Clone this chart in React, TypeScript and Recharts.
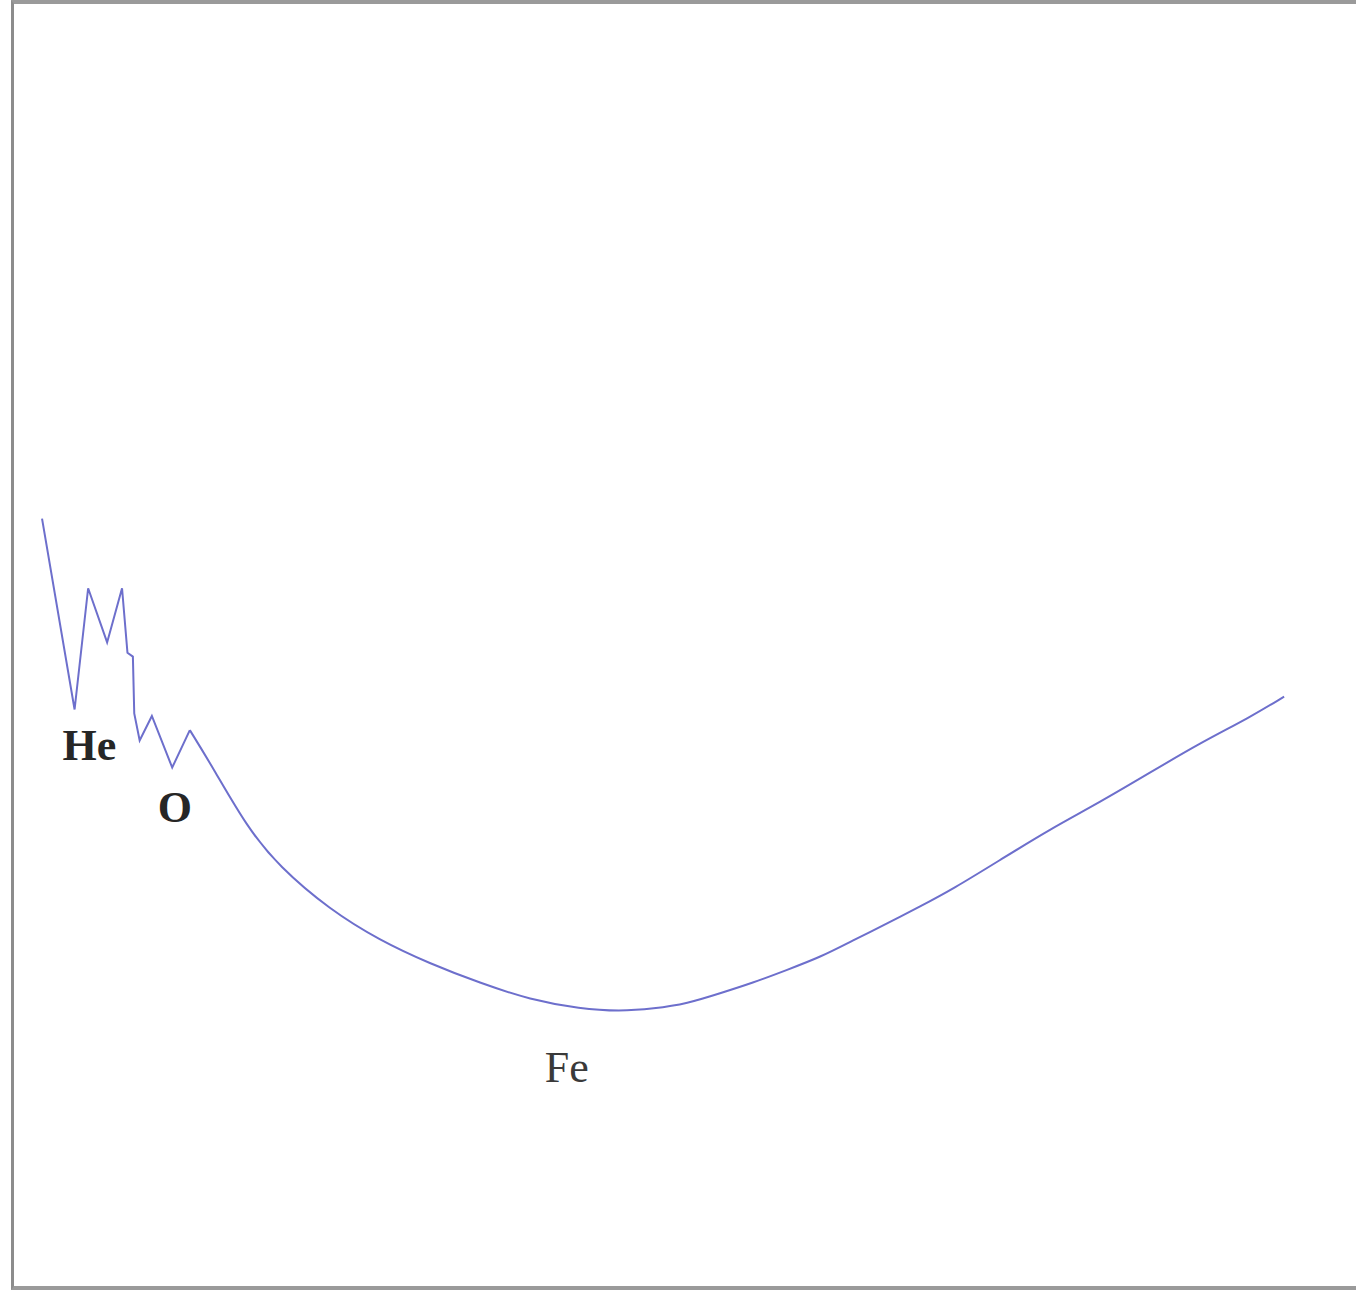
import { LineChart, Line, XAxis, YAxis, ReferenceDot } from 'recharts';

// light-element zigzag: position across the frame (0-100), height (0 = bottom, 100 = top)
const zigX = [3.1, 5.5, 6.5, 7.9, 9.0, 9.4, 9.8, 9.9, 10.3, 11.2, 12.7, 14.0];
const zigY = [59.8, 45.0, 54.4, 50.2, 54.4, 49.4, 49.1, 44.7, 42.6, 44.5, 40.5, 43.4];

// smooth valley from oxygen past iron
const curveX = [
  14.0, 15.7, 18.2, 20.6, 24.3, 28.0, 31.7, 35.4, 39.1, 42.8, 45.7, 48.2, 50.7,
  53.1, 55.5, 58.0, 60.5, 62.9, 65.4, 67.8, 70.3, 73.7, 77.4, 81.1, 84.8,
  88.5, 92.2, 94.7,
];
const curveY = [
  43.4, 40.5, 35.9, 32.8, 29.5, 27.1, 25.3, 23.8, 22.5, 21.8, 21.6, 21.8, 22.2,
  23.0, 23.8, 24.8, 25.8, 27.1, 28.4, 29.7, 31.1, 33.3, 35.7, 37.8, 40.1,
  42.4, 44.4, 46.0,
];

// element labels
const labelNames = ['He', 'O', 'Fe'];
const labelX = [6.6, 12.9, 41.8];
const labelY = [42.3, 37.5, 17.3];
const labelBold = [true, true, false];

const zigData = zigX.map((x, i) => ({ x, y: zigY[i] }));
const curveData = curveX.map((x, i) => ({ x, y: curveY[i] }));

export default function App() {
  return (
    <div style={{ position: 'absolute', left: 0, top: 0, width: 1356, height: 1290, background: '#fff' }}>
      {/* frame: left, top and bottom edges only */}
      <div
        style={{
          position: 'absolute',
          left: 11,
          top: 0,
          width: 1345,
          height: 1290,
          boxSizing: 'border-box',
          borderLeft: '3px solid #8c8c8c',
          borderTop: '4px solid #9a9a9a',
          borderBottom: '4px solid #9a9a9a',
        }}
      />
      <div style={{ position: 'absolute', left: 0, top: 0 }}>
        <LineChart width={1356} height={1290} margin={{ top: 0, right: 0, bottom: 0, left: 0 }}>
          <XAxis dataKey="x" type="number" domain={[0, 100]} hide />
          <YAxis type="number" domain={[0, 100]} hide />
          <Line
            data={zigData}
            type="linear"
            dataKey="y"
            stroke="#6d6fcc"
            strokeWidth={2}
            strokeLinejoin="miter"
            dot={false}
            activeDot={false}
            isAnimationActive={false}
          />
          {/* basis smooths out the reading noise on the long valley */}
          <Line
            data={curveData}
            type="basis"
            dataKey="y"
            stroke="#6d6fcc"
            strokeWidth={2}
            dot={false}
            activeDot={false}
            isAnimationActive={false}
          />
          {labelNames.map((name, i) => (
            <ReferenceDot
              key={name}
              x={labelX[i]}
              y={labelY[i]}
              r={0}
              fill="none"
              stroke="none"
              label={{
                value: name,
                position: 'center',
                fontSize: 44,
                fontFamily: '"Liberation Serif", serif',
                fontWeight: labelBold[i] ? 'bold' : 'normal',
                fill: labelBold[i] ? '#262626' : '#3a3a3a',
              }}
            />
          ))}
        </LineChart>
      </div>
    </div>
  );
}
